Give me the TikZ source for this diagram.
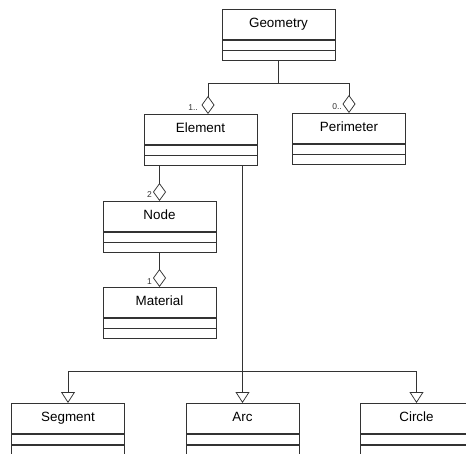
\documentclass[tikz,border=0pt]{standalone}
\usepackage{fontspec}
\setmainfont{Liberation Sans}
\usepackage{tikz}
\usetikzlibrary{arrows.meta}

\tikzset{
  classhead/.style={draw=black!80, line width=0.75pt, minimum width=113pt, minimum height=30pt,
    inner sep=0pt, text height=9.6pt, text depth=2.8pt, font=\fontsize{13.4}{15}\selectfont, anchor=north},
  classpart/.style={draw=black!80, line width=0.75pt, minimum width=113pt, minimum height=10pt,
    inner sep=0pt, anchor=north},
  aggr/.style={draw=black!80, line width=0.75pt, -{Diamond[open, length=18pt, width=13pt]}},
  gen/.style={draw=black!80, line width=0.75pt, -{Triangle[open, length=11pt, width=14pt]}},
  mult/.style={inner sep=0pt, font=\fontsize{8.5}{10}\selectfont, text=black!80, anchor=south east}
}

\begin{document}
\begin{tikzpicture}[x=1pt, y=-1pt]
            \useasboundingbox (0,0) rectangle (466,454);
            \foreach \n/\t/\x/\y in {geo/Geometry/278.5/9, elem/Element/200.5/114, per/Perimeter/349/113,
                node/Node/159.5/201, mat/Material/159.5/287, seg/Segment/68/403,
                arc/Arc/242.5/403, circ/Circle/416.5/403}{
              \node[classhead] (\n) at (\x,\y) {\t};
              \node[classpart] (\n1) at (\n.south) {};
              \node[classpart] (\n2) at (\n1.south) {};
            }
            \coordinate (bar) at (0,83);
            \coordinate (split) at (0,371);
            \draw[aggr] (geo2.south) -- (geo2.south |- bar) -| ([xshift=7.5pt]elem.north);
            \draw[aggr] (geo2.south) -- (geo2.south |- bar) -| (per.north);
            \draw[aggr] (node.north |- elem2.south) -- (node.north);
            \draw[aggr] (node2.south) -- (mat.north);
            \draw[gen] (arc.north |- elem2.south) -- (arc.north);
            \draw[gen] (arc.north |- split) -| (seg.north);
            \draw[gen] (arc.north |- split) -| (circ.north);
            \node[mult] (m-elem) at ([xshift=-2.5pt, yshift=3.5pt]elem.north) {1..};
            \node[mult] (m-per) at ([xshift=-7pt, yshift=3pt]per.north) {0..};
            \node[mult] (m-node) at ([xshift=-7.5pt, yshift=3pt]node.north) {2};
            \node[mult] (m-mat) at ([xshift=-7.5pt, yshift=2.5pt]mat.north) {1};
        \end{tikzpicture}
\end{document}
